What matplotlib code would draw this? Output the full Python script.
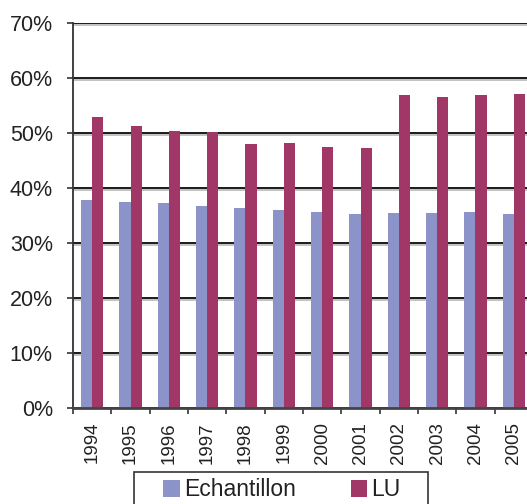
import numpy as np
import matplotlib.pyplot as plt
import matplotlib.patheffects as pe
from matplotlib.patches import Rectangle

plt.rcParams['font.family'] = ['Liberation Sans', 'DejaVu Sans']

years = ['1994', '1995', '1996', '1997', '1998', '1999',
         '2000', '2001', '2002', '2003', '2004', '2005']
echantillon = [37.8, 37.45, 37.3, 36.7, 36.4, 36.0,
               35.6, 35.3, 35.5, 35.5, 35.6, 35.3]
lu = [52.9, 51.3, 50.4, 50.2, 48.0, 48.2,
      47.5, 47.3, 56.9, 56.5, 56.9, 57.1]
yticks = [0, 10, 20, 30, 40, 50, 60, 70]

col_e = '#8b93c8'
col_lu = '#a03767'
txt = '#222222'

fig = plt.figure(figsize=(5.27, 5.04), dpi=100)
ax = fig.add_axes([73/527, 96/504, 460/527, 385/504])

x = np.arange(len(years))
w = 0.29
ax.bar(x - w/2, echantillon, w, color=col_e, label='Echantillon', zorder=3)
ax.bar(x + w/2, lu, w, color=col_lu, label='LU', zorder=3)

ax.set_xlim(-0.5, len(years) - 0.5)
ax.set_ylim(0, 70)
ax.set_yticks(yticks)
ax.set_yticklabels([f'{v}%' for v in yticks], fontsize=15.5, color=txt)
ax.set_xticks(x)
ax.set_xticklabels(years, rotation=90, fontsize=13.5, color=txt)
ax.set_xticks(np.arange(len(years) + 1) - 0.5, minor=True)
ax.tick_params(axis='x', which='major', length=0, pad=10)
ax.tick_params(axis='x', which='minor', length=4, width=1.2, color='#333333')
ax.tick_params(axis='y', length=4.5, width=1.2, color='#333333', pad=10)

ax.grid(axis='y', color='#1a1a1a', lw=1.4, zorder=1)
for gl in ax.yaxis.get_gridlines():
    gl.set_path_effects([pe.SimpleLineShadow(offset=(0, -1.2), shadow_color='#999999', alpha=0.6),
                         pe.Normal()])
ax.set_axisbelow(True)

for s in ['top', 'right']:
    ax.spines[s].set_visible(False)
ax.spines['left'].set_color('#333333')
ax.spines['left'].set_linewidth(1.3)
ax.spines['bottom'].set_color('#444444')
ax.spines['bottom'].set_linewidth(2)
ax.spines['bottom'].set_zorder(4)

# legend frame runs off the bottom of the picture
fig.patches.append(Rectangle((134/527, -0.05), 294/527, 0.05 + 32/504,
                             transform=fig.transFigure, fill=False,
                             edgecolor='#333333', lw=1.2))
fig.legend(loc='center left', bbox_to_anchor=(152/527, 14/504), ncol=2,
           frameon=False, fontsize=16.5, handlelength=0.7, handleheight=0.7,
           handletextpad=0.2, columnspacing=2.4, borderpad=0,
           labelcolor=txt)

fig.savefig('out.png', dpi=100)
